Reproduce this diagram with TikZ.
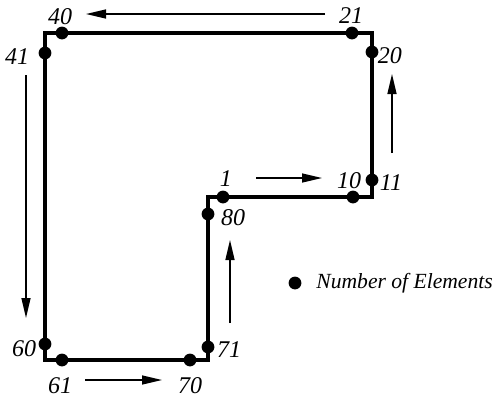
\documentclass[tikz,border=0pt]{standalone}
\usepackage{fontspec}
\setmainfont{Liberation Serif}
\usetikzlibrary{arrows.meta}
\tikzset{>={Triangle[length=10pt,width=4.5pt]}}
\tikzset{
  outline/.style={line width=2pt,line join=miter},
  dot/.style={circle,fill=black,inner sep=0pt,minimum size=6.4pt},
  lab/.style={inner sep=0pt,font=\fontsize{12}{14}\selectfont\itshape},
  flow/.style={->,line width=0.7pt}
}

\begin{document}
\begin{tikzpicture}[x=0.5pt,y=-0.5pt]
    \useasboundingbox (0,0) rectangle (494,403);
    % plate outline
    \draw[outline] (45,33) -- (372,33) -- (372,197) -- (208,197) -- (208,360) -- (45,360) -- cycle;
    % element markers
    \node[dot] (d1) at (223,197) {};
    \node[dot] (d10) at (353,197) {};
    \node[dot] (d11) at (372,180) {};
    \node[dot] (d20) at (372,52) {};
    \node[dot] (d21) at (352,33) {};
    \node[dot] (d40) at (62,33) {};
    \node[dot] (d41) at (45,53) {};
    \node[dot] (d60) at (45,344) {};
    \node[dot] (d61) at (62,360) {};
    \node[dot] (d70) at (190,360) {};
    \node[dot] (d71) at (208,347) {};
    \node[dot] (d80) at (208,214) {};
    % numbers
    \node[lab] (l1) at (226,179) {1};
    \node[lab] (l10) at (349,181) {10};
    \node[lab] (l11) at (391,183) {11};
    \node[lab] (l20) at (390,56) {20};
    \node[lab] (l21) at (351,16) {21};
    \node[lab] (l40) at (60,17) {40};
    \node[lab] (l41) at (17,57) {41};
    \node[lab] (l60) at (24,349) {60};
    \node[lab] (l61) at (60,386) {61};
    \node[lab] (l70) at (190,386) {70};
    \node[lab] (l71) at (229,350) {71};
    \node[lab] (l80) at (233,218) {80};
    % direction of numbering
    \coordinate (a1) at (256,178);
    \coordinate (b1) at (322,178);
    \coordinate (a2) at (392,153);
    \coordinate (b2) at (392,74);
    \coordinate (a3) at (325,14);
    \coordinate (b3) at (86,14);
    \coordinate (a4) at (26,75);
    \coordinate (b4) at (26,318);
    \coordinate (a5) at (85,380);
    \coordinate (b5) at (162,380);
    \coordinate (a6) at (230,323);
    \coordinate (b6) at (230,240);
    \draw[flow] (a1) -- (b1);
    \draw[flow] (a2) -- (b2);
    \draw[flow] (a3) -- (b3);
    \draw[flow] (a4) -- (b4);
    \draw[flow] (a5) -- (b5);
    \draw[flow] (a6) -- (b6);
    % legend
    \node[dot] (key) at (295,283) {};
    \node[lab,anchor=west,font=\fontsize{10.8}{12}\selectfont\itshape] (keytext) at (316,283) {Number of Elements};
  \end{tikzpicture}
\end{document}
